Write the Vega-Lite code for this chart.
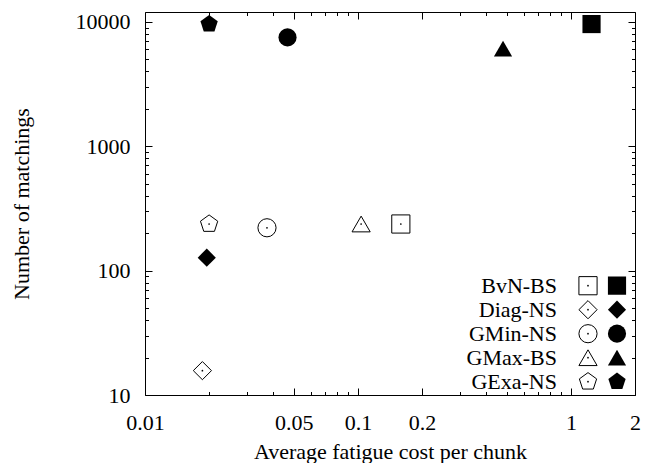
{
  "$schema": "https://vega.github.io/schema/vega-lite/v6.json",
  "width": 490,
  "height": 383,
  "autosize": "none",
  "padding": {"left": 145, "top": 12, "right": 14, "bottom": 68},
  "background": "white",
  "config": {
    "view": {"stroke": "black", "strokeWidth": 1},
    "font": "Liberation Serif",
    "axis": {
      "domain": false,
      "grid": false,
      "labelFont": "Liberation Serif",
      "labelFontSize": 22,
      "labelColor": "black",
      "titleFont": "Liberation Serif",
      "titleFontSize": 22,
      "titleFontWeight": "normal",
      "titleColor": "black",
      "tickColor": "black",
      "tickWidth": 1,
      "labelFlush": false,
      "labelOverlap": false,
      "labelBound": false
    },
    "legend": {
      "labelFont": "Liberation Serif",
      "labelFontSize": 22,
      "labelColor": "black",
      "padding": 0,
      "offset": 0
    }
  },
  "data": {
    "values": [
      {"algo": "BvN-BS", "variant": "open", "cost": 0.159, "matchings": 237},
      {"algo": "Diag-NS", "variant": "open", "cost": 0.0186, "matchings": 15.7},
      {"algo": "GMin-NS", "variant": "open", "cost": 0.0374, "matchings": 221},
      {"algo": "GMax-BS", "variant": "open", "cost": 0.1035, "matchings": 237},
      {"algo": "GExa-NS", "variant": "open", "cost": 0.02, "matchings": 237},
      {"algo": "BvN-BS", "variant": "filled", "cost": 1.25, "matchings": 9600},
      {"algo": "Diag-NS", "variant": "filled", "cost": 0.0195, "matchings": 127},
      {"algo": "GMin-NS", "variant": "filled", "cost": 0.0467, "matchings": 7500},
      {"algo": "GMax-BS", "variant": "filled", "cost": 0.48, "matchings": 6100},
      {"algo": "GExa-NS", "variant": "filled", "cost": 0.02, "matchings": 9600}
    ]
  },
  "layer": [
    {
      "transform": [{"filter": "datum.variant == 'open'"}],
      "mark": {"type": "point", "filled": false, "color": "black", "strokeWidth": 1, "size": 330, "opacity": 1},
      "encoding": {
        "x": {
          "field": "cost", "type": "quantitative",
          "scale": {"type": "log", "domain": [0.01, 2], "nice": false},
          "axis": {
            "orient": "bottom",
            "values": [0.01, 0.02, 0.03, 0.04, 0.05, 0.06, 0.07, 0.08, 0.09, 0.1, 0.2, 0.3, 0.4, 0.5, 0.6, 0.7, 0.8, 0.9, 1, 2],
            "labelExpr": "indexof([0.01,0.05,0.1,0.2,1,2], datum.value) >= 0 ? '' + datum.value : ''",
            "tickSize": {"condition": {"test": "indexof([0.01,0.05,0.1,0.2,1,2], datum.value) >= 0", "value": -7}, "value": -3.5},
            "labelPadding": 24,
            "title": "Average fatigue cost per chunk",
            "titlePadding": 5
          }
        },
        "y": {
          "field": "matchings", "type": "quantitative",
          "scale": {"type": "log", "domain": [10, 12000], "nice": false},
          "axis": {
            "orient": "left",
            "values": [10, 20, 30, 40, 50, 60, 70, 80, 90, 100, 200, 300, 400, 500, 600, 700, 800, 900, 1000, 2000, 3000, 4000, 5000, 6000, 7000, 8000, 9000, 10000],
            "labelExpr": "indexof([10,100,1000,10000], datum.value) >= 0 ? '' + datum.value : ''",
            "tickSize": {"condition": {"test": "indexof([10,100,1000,10000], datum.value) >= 0", "value": -7}, "value": -3.5},
            "labelPadding": 22,
            "title": "Number of matchings",
            "titlePadding": 42
          }
        },
        "shape": {
          "field": "algo", "type": "nominal",
          "scale": {
            "domain": ["BvN-BS", "Diag-NS", "GMin-NS", "GMax-BS", "GExa-NS"],
            "range": ["square", "diamond", "circle", "triangle-up", "M0,-1L0.951,-0.309L0.588,0.809L-0.588,0.809L-0.951,-0.309Z"]
          },
          "legend": {
            "title": null,
            "orient": "none",
            "legendX": 432,
            "legendY": 262,
            "symbolSize": 330,
            "symbolStrokeWidth": 1,
            "symbolStrokeColor": "black",
            "symbolFillColor": "white",
            "symbolOpacity": 1,
            "labelExpr": "''",
            "clipHeight": 23.4,
            "rowPadding": 0
          }
        }
      }
    },
    {
      "transform": [{"filter": "datum.variant == 'filled'"}],
      "mark": {"type": "point", "filled": true, "color": "black", "size": 330, "opacity": 1},
      "encoding": {
        "x": {
          "field": "cost", "type": "quantitative",
          "axis": {
            "orient": "top",
            "values": [0.01, 0.02, 0.03, 0.04, 0.05, 0.06, 0.07, 0.08, 0.09, 0.1, 0.2, 0.3, 0.4, 0.5, 0.6, 0.7, 0.8, 0.9, 1, 2],
            "labels": false,
            "tickSize": {"condition": {"test": "indexof([0.01,0.05,0.1,0.2,1,2], datum.value) >= 0", "value": -7}, "value": -3.5},
            "title": null
          }
        },
        "y": {
          "field": "matchings", "type": "quantitative",
          "axis": {
            "orient": "right",
            "values": [10, 20, 30, 40, 50, 60, 70, 80, 90, 100, 200, 300, 400, 500, 600, 700, 800, 900, 1000, 2000, 3000, 4000, 5000, 6000, 7000, 8000, 9000, 10000],
            "labels": false,
            "tickSize": {"condition": {"test": "indexof([10,100,1000,10000], datum.value) >= 0", "value": -7}, "value": -3.5},
            "title": null
          }
        },
        "shape": {
          "field": "algo", "type": "nominal",
          "scale": {
            "domain": ["BvN-BS", "Diag-NS", "GMin-NS", "GMax-BS", "GExa-NS"],
            "range": ["square", "diamond", "circle", "triangle-up", "M0,-1L0.951,-0.309L0.588,0.809L-0.588,0.809L-0.951,-0.309Z"]
          },
          "legend": {
            "title": null,
            "orient": "none",
            "legendX": 461,
            "legendY": 262,
            "symbolSize": 330,
            "symbolFillColor": "black",
            "symbolStrokeWidth": 0,
            "labelExpr": "''",
            "clipHeight": 23.4,
            "rowPadding": 0
          }
        }
      }
    },
    {
      "transform": [{"filter": "datum.variant == 'open'"}],
      "mark": {"type": "point", "filled": true, "color": "black", "size": 3, "opacity": 1},
      "encoding": {
        "x": {"field": "cost", "type": "quantitative", "axis": null},
        "y": {"field": "matchings", "type": "quantitative", "axis": null},
        "shape": {
          "field": "algo", "type": "nominal",
          "scale": {
            "domain": ["BvN-BS", "Diag-NS", "GMin-NS", "GMax-BS", "GExa-NS"],
            "range": ["circle", "circle", "circle", "circle", "circle"]
          },
          "legend": {
            "title": null,
            "orient": "none",
            "legendX": 432,
            "legendY": 262,
            "symbolSize": 3,
            "symbolFillColor": "black",
            "symbolStrokeWidth": 0,
            "labelExpr": "''",
            "clipHeight": 23.4,
            "rowPadding": 0
          }
        }
      }
    },
    {
      "transform": [{"filter": "datum.variant == 'open'"}],
      "mark": {"type": "point", "filled": false, "color": "black", "size": 330, "opacity": 0},
      "encoding": {
        "x": {"field": "cost", "type": "quantitative", "axis": null},
        "y": {"field": "matchings", "type": "quantitative", "axis": null},
        "shape": {
          "field": "algo", "type": "nominal",
          "scale": {"domain": ["BvN-BS", "Diag-NS", "GMin-NS", "GMax-BS", "GExa-NS"]},
          "legend": {
            "title": null,
            "orient": "none",
            "legendX": 390,
            "legendY": 262,
            "symbolSize": 1,
            "symbolOpacity": 0,
            "labelAlign": "right",
            "labelOffset": 0,
            "labelLimit": 0,
            "clipHeight": 23.4,
            "rowPadding": 0
          }
        }
      }
    }
  ],
  "resolve": {
    "scale": {"shape": "independent"},
    "legend": {"shape": "independent"},
    "axis": {"x": "independent", "y": "independent"}
  }
}
